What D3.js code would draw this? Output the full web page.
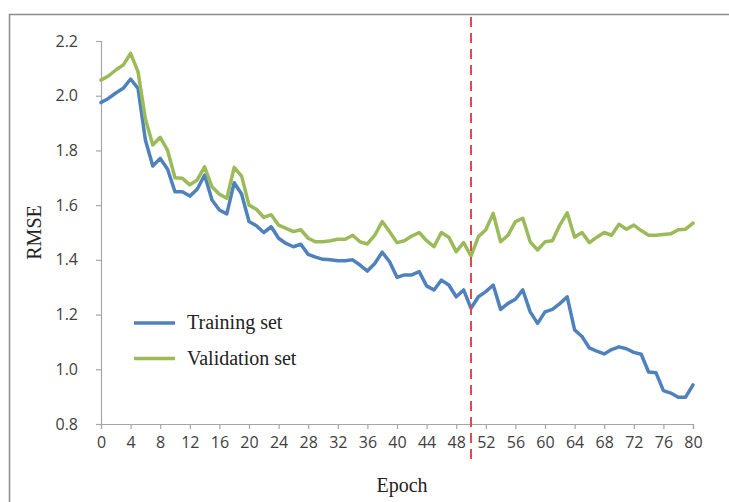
<!DOCTYPE html>
<html>
<head>
<meta charset="utf-8">
<script src="https://cdn.jsdelivr.net/npm/d3@7"></script>
<style>
  html, body { margin: 0; padding: 0; background: #fff; }
  svg { display: block; }
</style>
</head>
<body>
<svg id="chart" width="729" height="502"></svg>
<script>
const epochs = d3.range(0, 81);
const trainingRMSE = [
  1.975,1.99,2.01,2.027,2.061,2.027,1.838,1.743,1.771,1.731,
  1.649,1.649,1.633,1.658,1.71,1.619,1.582,1.568,1.682,1.641,
  1.54,1.525,1.50,1.521,1.479,1.46,1.448,1.457,1.42,1.41,
  1.402,1.40,1.397,1.397,1.40,1.381,1.359,1.387,1.428,1.393,
  1.336,1.345,1.345,1.357,1.305,1.29,1.326,1.308,1.265,1.29,
  1.223,1.265,1.284,1.308,1.219,1.241,1.256,1.29,1.21,1.168,
  1.21,1.219,1.24,1.265,1.144,1.12,1.078,1.066,1.056,1.072,
  1.082,1.075,1.062,1.055,0.99,0.987,0.922,0.913,0.898,0.898,0.943
];
const validationRMSE = [
  2.057,2.072,2.094,2.112,2.155,2.088,1.915,1.82,1.848,1.80,
  1.70,1.698,1.674,1.692,1.74,1.667,1.64,1.625,1.738,1.706,
  1.60,1.585,1.555,1.565,1.527,1.515,1.503,1.51,1.479,1.466,
  1.466,1.47,1.475,1.475,1.49,1.466,1.458,1.49,1.54,1.503,
  1.463,1.47,1.487,1.50,1.47,1.448,1.50,1.483,1.43,1.463,
  1.414,1.485,1.51,1.57,1.466,1.49,1.54,1.552,1.466,1.436,
  1.466,1.47,1.527,1.572,1.483,1.50,1.463,1.483,1.50,1.49,
  1.53,1.512,1.527,1.507,1.49,1.49,1.493,1.495,1.51,1.512,1.534
];
const xTicks = d3.range(0, 81, 4);
const yTicks = [0.8, 1.0, 1.2, 1.4, 1.6, 1.8, 2.0, 2.2];
const seriesNames = ["Training set", "Validation set"];
const seriesColors = ["#4F81BD", "#9BBB59"];
const stopEpoch = 50;

const svg = d3.select("#chart");

// outer frame
svg.append("rect")
  .attr("x", 9.5).attr("y", 14.5)
  .attr("width", 760).attr("height", 520)
  .attr("fill", "none").attr("stroke", "#8c8c8c").attr("stroke-width", 1.5);

const x = d3.scaleLinear().domain([0, 80]).range([101, 693]);
const y = d3.scaleLinear().domain([0.8, 2.2]).range([424, 41]);

const axisColor = "#a6a6a6";
const tickFont = "'Open Sans', 'Liberation Sans', sans-serif";

// y axis
const gy = svg.append("g")
  .attr("transform", `translate(${x(0)},0)`)
  .call(d3.axisLeft(y).tickValues(yTicks).tickFormat(d3.format(".1f")).tickSize(5).tickPadding(18));
gy.select(".domain").attr("stroke", axisColor).attr("stroke-width", 1.2);
gy.selectAll(".tick line").attr("stroke", axisColor).attr("stroke-width", 1.2);
gy.selectAll(".tick text")
  .attr("font-family", tickFont).attr("font-size", 16).attr("fill", "#404040");

// x axis
const gx = svg.append("g")
  .attr("transform", `translate(0,${y(0.8)})`)
  .call(d3.axisBottom(x).tickValues(xTicks).tickSize(5).tickSizeOuter(5).tickPadding(8));
gx.select(".domain").attr("stroke", axisColor).attr("stroke-width", 1.2);
gx.selectAll(".tick line").attr("stroke", axisColor).attr("stroke-width", 1.2);
gx.selectAll(".tick text")
  .attr("font-family", tickFont).attr("font-size", 16).attr("fill", "#404040");

// axis titles
svg.append("text")
  .attr("x", 402).attr("y", 492)
  .attr("text-anchor", "middle")
  .attr("font-family", "'Liberation Serif', 'Times New Roman', serif")
  .attr("font-size", 20).attr("fill", "#222")
  .text("Epoch");
svg.append("text")
  .attr("transform", `translate(41,${y(1.5)}) rotate(-90)`)
  .attr("text-anchor", "middle")
  .attr("font-family", "'Liberation Serif', 'Times New Roman', serif")
  .attr("font-size", 20).attr("fill", "#222")
  .text("RMSE");

// lines
const line = d3.line().x((d, i) => x(epochs[i])).y(d => y(d));
[trainingRMSE, validationRMSE].forEach((vals, k) => {
  svg.append("path")
    .datum(vals)
    .attr("d", line)
    .attr("fill", "none")
    .attr("stroke", seriesColors[k])
    .attr("stroke-width", 3.5)
    .attr("stroke-linejoin", "round")
    .attr("stroke-linecap", "round");
});

// stop marker
svg.append("line")
  .attr("x1", x(stopEpoch)).attr("x2", x(stopEpoch))
  .attr("y1", 17).attr("y2", 464)
  .attr("stroke", "#E04A4A").attr("stroke-width", 2)
  .attr("stroke-dasharray", "10,6");

// legend
seriesNames.forEach((name, k) => {
  const ly = 323 + k * 35.5;
  svg.append("line")
    .attr("x1", 134).attr("x2", 175)
    .attr("y1", ly).attr("y2", ly)
    .attr("stroke", seriesColors[k]).attr("stroke-width", 3.5);
  svg.append("text")
    .attr("x", 187).attr("y", ly + 6)
    .attr("font-family", "'Liberation Serif', 'Times New Roman', serif")
    .attr("font-size", 20).attr("fill", "#222")
    .text(name);
});
</script>
</body>
</html>
